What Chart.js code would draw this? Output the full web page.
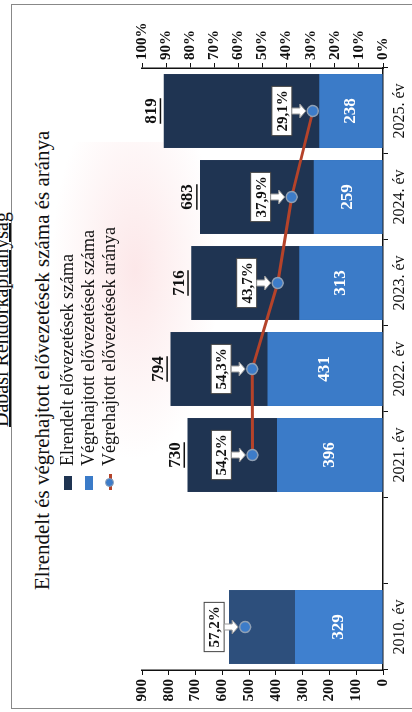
<!DOCTYPE html>
<html lang="hu">
<head>
<meta charset="utf-8">
<script src="https://cdn.jsdelivr.net/npm/chart.js@4"></script>
<style>
  body { margin: 0; width: 412px; height: 712px; overflow: hidden; background: #fff; }
  #rot { position: absolute; left: 0; top: 0; width: 712px; height: 412px;
         transform-origin: 0 0; transform: translateY(712px) rotate(-90deg);
         font-family: "Liberation Serif", "Times New Roman", serif; color: #111; }
  #frame { position: absolute; left: 3px; top: 11px; width: 703px; height: 420px; border: 1px solid #888; }
  #wm { position: absolute; left: 250px; top: 50px; width: 320px; height: 170px;
        background: radial-gradient(ellipse at 60% 50%, rgba(245,170,175,0.28), rgba(255,255,255,0) 70%); }
  #sub { position: absolute; left: 285px; top: -9px; font-size: 20px; line-height: 20px; text-decoration: underline; white-space: nowrap; }
  #title { position: absolute; left: 122px; top: 30px; font-size: 21px; line-height: 24px; white-space: nowrap; }
  #legend { position: absolute; left: 222px; top: 57px; font-size: 18px; line-height: 21px; }
  #legend div { display: flex; align-items: center; white-space: nowrap; }
  .sw { display: inline-block; width: 14px; height: 8px; margin-right: 10px; }
  .ln { position: relative; display: inline-block; width: 16px; height: 10px; margin-right: 8px; }
  .ln::before { content: ""; position: absolute; left: 0; right: 0; top: 4px; height: 3px; background: #b5432a; }
  .ln::after { content: ""; position: absolute; left: 3px; top: 0; width: 9px; height: 9px; border-radius: 50%; background: #3d7cc9; border: 1px solid #8fa0b5; box-sizing: border-box; }
  #wrap { position: absolute; left: 0; top: 0; width: 712px; height: 412px; }
</style>
</head>
<body>
<div id="rot">
  <div id="wm"></div>
  <div id="frame"></div>
  <div id="sub">Dabasi Rendőrkapitányság</div>
  <div id="title">Elrendelt és végrehajtott elővezetések száma és aránya</div>
  <div id="wrap"><canvas id="chart"></canvas></div>
  <div id="legend">
    <div><span class="sw" style="background:#1f3452"></span>Elrendelt elővezetések száma</div>
    <div><span class="sw" style="background:#3b7bc8"></span>Végrehajtott elővezetések száma</div>
    <div><span class="ln"></span>Végrehajtott elővezetések aránya</div>
  </div>
</div>
<script>
// categories (the empty one is the gap between 2010 and 2021)
const years = ["2010. év", "", "2021. év", "2022. év", "2023. év", "2024. év", "2025. év"];
// Elrendelt (total) and Végrehajtott counts
const ordered = [575, null, 730, 794, 716, 683, 819];
const executed = [329, null, 396, 431, 313, 259, 238];
// Végrehajtott aránya, %
const ratio = [57.2, null, 54.2, 54.3, 43.7, 37.9, 29.1];
const totalShown = [false, false, true, true, true, true, true];
const countTicks = [0, 100, 200, 300, 400, 500, 600, 700, 800, 900];
const pctTicks = [0, 10, 20, 30, 40, 50, 60, 70, 80, 90, 100];

const serif = '"Liberation Serif", "Times New Roman", serif';
const darkCol = years.map((y, i) => i === 0 ? "#2d4f7c" : "#1f3452");
const lightCol = years.map((y, i) => i === 0 ? "#3f80cf" : "#3b7bc8");

const labelPlugin = {
  id: "labels",
  afterDatasetsDraw(chart) {
    const ctx = chart.ctx;
    const dark = chart.getDatasetMeta(0).data;
    const light = chart.getDatasetMeta(1).data;
    const pts = chart.getDatasetMeta(2).data;
    ctx.save();
    ctx.textAlign = "center";
    ctx.textBaseline = "middle";
    years.forEach((y, i) => {
      if (ordered[i] == null) return;
      // total above the bar, underlined
      if (totalShown[i]) {
        const b = dark[i];
        const t = String(ordered[i]);
        ctx.font = "bold 17px " + serif;
        ctx.fillStyle = "#111";
        const ty = b.y - 12;
        ctx.fillText(t, b.x, ty);
        const w = ctx.measureText(t).width;
        ctx.fillRect(b.x - w / 2, ty + 8, w, 1.5);
      }
      // executed count, white in the light segment
      const l = light[i];
      ctx.font = "bold 17px " + serif;
      ctx.fillStyle = "#fff";
      ctx.fillText(String(executed[i]), l.x, (l.y + l.base) / 2);
      // ratio callout
      const p = pts[i];
      const txt = ratio[i].toFixed(1).replace(".", ",") + "%";
      ctx.font = "bold 15px " + serif;
      const tw = ctx.measureText(txt).width + 8;
      const cy = p.y - 31, h = 20;
      ctx.fillStyle = "#fff";
      ctx.strokeStyle = "#444";
      ctx.lineWidth = 1;
      ctx.fillRect(p.x - tw / 2, cy - h / 2, tw, h);
      ctx.strokeRect(p.x - tw / 2, cy - h / 2, tw, h);
      // block arrow towards the marker
      const top = cy + h / 2, tip = p.y - 7;
      ctx.beginPath();
      ctx.moveTo(p.x - 3, top);
      ctx.lineTo(p.x - 3, tip - 6);
      ctx.lineTo(p.x - 7, tip - 6);
      ctx.lineTo(p.x, tip);
      ctx.lineTo(p.x + 7, tip - 6);
      ctx.lineTo(p.x + 3, tip - 6);
      ctx.lineTo(p.x + 3, top);
      ctx.closePath();
      ctx.fillStyle = "#fff";
      ctx.fill();
      ctx.strokeStyle = "#999";
      ctx.stroke();
      ctx.fillStyle = "#111";
      ctx.fillText(txt, p.x, cy + 1);
    });
    ctx.restore();
  }
};

new Chart(document.getElementById("chart"), {
  type: "bar",
  data: {
    labels: years,
    datasets: [
      { label: "Elrendelt elővezetések száma", data: ordered, backgroundColor: darkCol, order: 3,
        categoryPercentage: 1, barPercentage: 0.86 },
      { label: "Végrehajtott elővezetések száma", data: executed, backgroundColor: lightCol, order: 2,
        categoryPercentage: 1, barPercentage: 0.86 },
      { type: "line", label: "Végrehajtott elővezetések aránya", data: ratio, yAxisID: "y1", order: 1,
        borderColor: "#b5432a", borderWidth: 3, spanGaps: false,
        pointRadius: 5.5, pointBackgroundColor: "#3d7cc9", pointBorderColor: "#8fa0b5", pointBorderWidth: 1.5 }
    ]
  },
  options: {
    responsive: true,
    maintainAspectRatio: false,
    animation: false,
    layout: { padding: { top: 142, left: 0, right: 0, bottom: 0 } },
    plugins: { legend: { display: false }, tooltip: { enabled: false } },
    scales: {
      x: {
        stacked: true,
        offset: true,
        grid: { offset: true, drawOnChartArea: false, tickLength: 5, color: "#111" },
        border: { color: "#111", width: 1.5 },
        ticks: { maxRotation: 0, color: "#111", padding: 2, font: { family: serif, size: 16 } },
        afterFit: s => { s.height = 29; }
      },
      y: {
        stacked: false,
        min: 0, max: 900,
        afterBuildTicks: s => { s.ticks = countTicks.map(v => ({ value: v })); },
        grid: { drawOnChartArea: false, tickLength: 5, color: "#111" },
        border: { color: "#111", width: 1.5 },
        ticks: { color: "#111", padding: 4, font: { family: serif, size: 15, weight: "bold" } },
        afterFit: s => { s.width = 42; }
      },
      y1: {
        position: "right",
        min: 0, max: 100,
        afterBuildTicks: s => { s.ticks = pctTicks.map(v => ({ value: v })); },
        grid: { drawOnChartArea: false, tickLength: 5, color: "#111" },
        border: { color: "#111", width: 1.5 },
        ticks: { color: "#111", padding: 3, font: { family: serif, size: 15, weight: "bold" },
                 callback: v => v + "%" },
        afterFit: s => { s.width = 68; }
      }
    }
  },
  plugins: [labelPlugin]
});
</script>
</body>
</html>
